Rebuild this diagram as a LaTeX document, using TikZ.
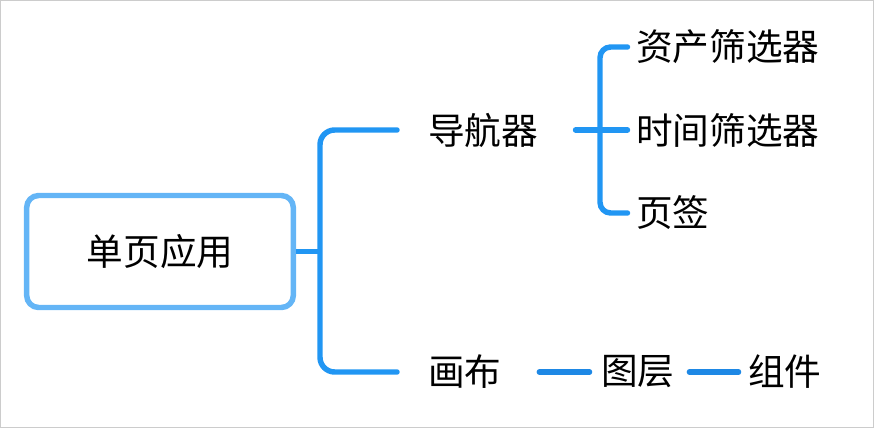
\documentclass[tikz,border=0pt]{standalone}
\usepackage{fontspec}
\newfontfamily\cjk{Noto Sans CJK SC}
\usepackage{xcolor}
\definecolor{rootblue}{HTML}{64B5F6}
\definecolor{lineblue}{HTML}{2196F3}
\definecolor{deepblue}{HTML}{1E88E5}
\definecolor{framegray}{HTML}{CCCCCC}
\usepackage{tikz}
\usetikzlibrary{positioning}
\tikzset{
    x=0.75pt, y=-0.75pt,
    % Topic text
    topic/.style={ font=\cjk\fontsize{27.5}{32}\selectfont, text=black, inner sep=0pt },
    leaf/.style={ topic, anchor=west },
    rootbox/.style={ topic, rectangle, rounded corners=9pt, draw=rootblue, line width=4.1pt, minimum width=200pt, minimum height=84pt },
    % Connectors
    branch/.style={ draw=lineblue, line width=4.1pt, line cap=round },
    twig/.style={ branch, draw=deepblue },
}

\begin{document}
\begin{tikzpicture}
    \useasboundingbox (0,0) rectangle (874,428);
    \draw[framegray, line width=0.75pt] (0.5,0.5) rectangle (873.5,427.5);

    % Topics
    \node[rootbox] (root) at (160,251.5) {单页应用};
    \node[leaf] (nav) at (428,130) {导航器};
    \node[leaf] (canvas) at (428,372) {画布};
    \node[leaf] (asset) at (636,47) {资产筛选器};
    \node[leaf] (time) at (636,130) {时间筛选器};
    \node[leaf] (tab) at (636,213) {页签};
    \node[leaf] (layer) at (601,372) {图层};
    \node[leaf] (comp) at (748,372) {组件};

    % Forks
    \coordinate (fork-root) at (320,251.5);
    \coordinate (fork-nav) at (600,130);

    % Connectors
    \draw[branch, line cap=butt] (root.east) to (fork-root);
    \draw[branch, rounded corners=11pt] ([xshift=-23.25pt]nav.west) -| (fork-root) |- ([xshift=-23.25pt]canvas.west);
    \draw[branch] ([xshift=27.75pt]nav.east) to ([xshift=-6.4pt]time.west);
    \draw[branch, rounded corners=8pt] ([xshift=-6.4pt]asset.west) -| (fork-nav) |- ([xshift=-6.4pt]tab.west);
    \draw[twig] ([xshift=28.1pt]canvas.east) to ([xshift=-8.6pt]layer.west);
    \draw[twig] ([xshift=10.9pt]layer.east) to ([xshift=-7.1pt]comp.west);
\end{tikzpicture}
\end{document}
